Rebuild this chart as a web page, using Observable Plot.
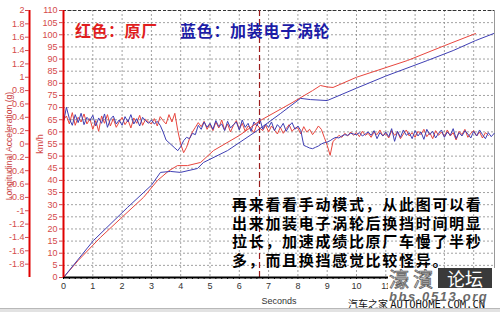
<!DOCTYPE html>
<html><head><meta charset="utf-8">
<script src="https://cdn.jsdelivr.net/npm/d3@7"></script>
<script src="https://cdn.jsdelivr.net/npm/@observablehq/plot@0.6"></script>
<style>
body{margin:0;background:#fff;}
#wrap{position:relative;width:500px;height:312px;overflow:hidden;background:#fff;font-family:Arial,"Liberation Sans",sans-serif}
.ov{position:absolute;white-space:nowrap;line-height:1}
.cjk{font-family:"Noto Sans CJK SC",sans-serif;font-weight:700}
</style></head><body><div id="wrap"></div>
<script>
// ---- data ----
const accelStart = 0, accelStep = 0.1; // seconds between acceleration samples
// red = 原厂 (stock), longitudinal acceleration in g
const redAccel = [
 0.36,0.42,0.30,0.47,0.28,0.40,0.33,0.45,0.30,0.38,
 0.22,0.35,0.19,0.42,0.31,0.44,0.27,0.38,0.25,0.33,
 0.40,0.29,0.36,0.24,0.39,0.31,0.43,0.28,0.37,0.33,
 0.30,0.38,0.27,0.41,0.35,0.30,0.44,0.33,0.46,0.20,
 0.00,-0.13,-0.05,0.08,0.18,0.25,0.32,0.26,0.34,0.22,
 0.30,0.20,0.33,0.24,0.36,0.21,0.30,0.18,0.28,0.35,
 0.22,0.31,0.19,0.27,0.23,0.17,0.29,0.24,0.20,0.28,
 0.18,0.27,0.21,0.15,0.25,0.16,0.23,0.29,0.19,0.24,
 0.24,0.15,0.26,0.18,0.22,0.14,0.20,0.27,0.22,0.10,
 -0.02,-0.17,0.04,0.08,0.13,0.10,0.16,0.12,0.18,0.13,
 0.17,0.11,0.19,0.13,0.16,0.10,0.18,0.14,0.21,0.12,
 0.16,0.09,0.20,0.13,0.18,0.08,0.15,0.21,0.12,0.17,
 0.10,0.19,0.14,0.22,0.11,0.17,0.08,0.20,0.13,0.18,
 0.11,0.21,0.12,0.17,0.06,0.19,0.14,0.22,0.10,0.16,
 0.20,0.12,0.18,0.09,0.17,0.13
];
// blue = 加装电子涡轮 (electric turbo), longitudinal acceleration in g
const blueAccel = [
 0.33,0.55,0.38,0.28,0.44,0.32,0.46,0.29,0.40,0.35,
 0.43,0.27,0.39,0.31,0.45,0.25,0.37,0.42,0.30,0.36,
 0.28,0.41,0.33,0.44,0.30,0.38,0.27,0.40,0.35,0.31,
 0.36,0.30,0.34,0.28,0.18,0.06,0.02,-0.02,-0.06,-0.10,
 -0.04,0.05,0.10,0.08,0.16,0.14,0.28,0.22,0.33,0.25,
 0.31,0.22,0.35,0.26,0.30,0.20,0.34,0.24,0.29,0.33,
 0.21,0.36,0.25,0.31,0.19,0.33,0.27,0.38,0.22,0.30,
 0.25,0.33,0.20,0.29,0.24,0.31,0.19,0.27,0.32,0.22,
 0.27,0.20,-0.02,-0.04,-0.06,-0.07,-0.05,-0.03,0.00,0.02,
 0.03,0.05,0.08,0.10,0.09,0.12,0.14,0.13,0.16,0.15,
 0.14,0.17,0.12,0.15,0.18,0.13,0.20,0.08,0.17,0.12,
 0.18,0.11,0.23,0.04,0.19,0.10,0.21,0.13,0.17,0.08,
 0.20,0.12,0.18,0.07,0.22,0.14,0.19,0.09,0.16,0.21,
 0.10,0.18,0.13,0.23,0.08,0.17,0.12,0.20,0.15,0.09,
 0.19,0.12,0.21,0.14,0.08,0.17,0.11,0.16
];
// speed (km/h) against time (s)
const redSpeedTime = [0,0.5,1.26,1.95,2.73,3.21,3.6,3.89,4.23,4.68,5.12,6.0,6.72,7.8,8.5,8.77,9.0,9.2,10.0,11.74,13.0,14.06];
const redSpeed     = [0,7,16.5,24.3,33,40,44,46.1,46.1,47.4,52.3,58.5,64.7,72,77,79.1,78.5,78.3,82.5,89.4,95.5,100.5];
const blueSpeedTime = [0,1.02,2.18,3.0,3.31,3.65,3.99,4.57,4.78,5.6,6.62,7.4,8.09,8.43,9.0,10.0,11.0,12.42,13.3,14.06,14.68];
const blueSpeed     = [0,15.2,28.8,38,43.3,43.7,43.3,44.9,47.4,52.3,60.6,67.5,73.8,73.3,72.9,78,83,89.4,93.5,97.6,100.5];
// ticks
const secondTicks = [0,1,2,3,4,5,6,7,8,9,10,11,12,13,14];
const secondLabels = [0,1,2,3,4,5,6,7,8,9,10,11];
const kmhTicks = [0,5,10,15,20,25,30,35,40,45,50,55,60,65,70,75,80,85,90,95,100,105,110];
const gTicks = [-1.8,-1.6,-1.4,-1.2,-1,-0.8,-0.6,-0.4,-0.2,0,0.2,0.4,0.6,0.8,1,1.2,1.4,1.6,1.8,2];
const cursorTime = [6.69];
const xMax = 14.71;
const gMin = -2, gMax = 2, kmhMax = 110;

// ---- build ----
const gToKmh = g => (g - gMin) / (gMax - gMin) * kmhMax;
const kmhToG = v => Math.round((v / kmhMax * (gMax - gMin) + gMin) * 10) / 10;
const redAccelData = redAccel.map((g, i) => ({t: accelStart + i * accelStep, g}));
const blueAccelData = blueAccel.map((g, i) => ({t: accelStart + i * accelStep, g}));
const redSpeedData = redSpeedTime.map((t, i) => ({t, v: redSpeed[i]}));
const blueSpeedData = blueSpeedTime.map((t, i) => ({t, v: blueSpeed[i]}));
const minorTicks = d3.range(0, xMax, 0.2);

const RED = "#e8463e", BLUE = "#3f3fb4";
const grid = {stroke: "#8a8a8a", strokeOpacity: 1, strokeDasharray: "2,2", strokeWidth: 0.8};

const chart = Plot.plot({
  width: 500, height: 312,
  marginLeft: 63, marginRight: 6, marginTop: 10, marginBottom: 35,
  x: {domain: [0, xMax]},
  y: {domain: [0, kmhMax]},
  style: {fontFamily: "Arial, 'Liberation Sans', sans-serif", fontSize: "9px", background: "transparent", overflow: "visible"},
  marks: [
    Plot.gridX(secondTicks.slice(1), grid),
    Plot.gridY(kmhTicks.slice(1), grid),
    Plot.ruleY([kmhMax], {stroke: "#333", strokeDasharray: "3,2"}),
    Plot.ruleX([xMax], {stroke: "#999"}),
    Plot.ruleX(cursorTime, {stroke: "#9b1c1c", strokeDasharray: "6,3", strokeWidth: 1.2}),
    Plot.line(redAccelData, {x: "t", y: d => gToKmh(d.g), stroke: RED, strokeWidth: 1}),
    Plot.line(blueAccelData, {x: "t", y: d => gToKmh(d.g), stroke: BLUE, strokeWidth: 1}),
    Plot.line(redSpeedData, {x: "t", y: "v", stroke: RED, strokeWidth: 1}),
    Plot.line(blueSpeedData, {x: "t", y: "v", stroke: BLUE, strokeWidth: 1}),
    Plot.ruleY([0], {stroke: "#000", strokeWidth: 2}),
    Plot.ruleX([0], {stroke: "#e00000", strokeWidth: 2}),
    Plot.ruleX([0], {stroke: "#e00000", strokeWidth: 2, dx: -34}),
    Plot.axisY(kmhTicks, {tickSize: 4, tickPadding: 2, color: "#d44a4a", tickFormat: d => String(d),
      label: "km/h", labelAnchor: "center", labelOffset: 27, labelArrow: "none"}),
    Plot.axisY(gTicks.map(gToKmh), {dx: -34, tickSize: 4, tickPadding: 1, color: "#d44a4a",
      tickFormat: d => String(kmhToG(d)), label: null}),
    Plot.axisX(minorTicks, {tickSize: 2, tickFormat: () => "", stroke: "#000", label: null}),
    Plot.axisX(secondLabels, {tickSize: 0, tickPadding: 5, color: "#333", label: "Seconds",
      labelAnchor: "center", labelOffset: 26, labelArrow: "none"})
  ]
});
const wrap = document.getElementById("wrap");
wrap.appendChild(chart);

function ov(html, css, cls) {
  const d = document.createElement("div");
  d.className = "ov " + (cls || "");
  d.innerHTML = html;
  Object.assign(d.style, css);
  wrap.appendChild(d);
  return d;
}
// rotated acceleration axis title
ov("Longitudinal Acceleration (g)", {left: "9px", top: "146px", fontSize: "8.6px", color: "#c83c3c",
  transform: "translate(-50%,-50%) rotate(-90deg)"});
// legend text
ov("红色：原厂", {left: "75px", top: "22px", fontSize: "16px", color: "#e01e1e", letterSpacing: "0.5px"}, "cjk");
ov("蓝色：加装电子涡轮", {left: "180px", top: "22px", fontSize: "16px", color: "#1c1ca6", letterSpacing: "0.7px"}, "cjk");
// paragraph, one line per block
const para = ["再来看看手动模式，从此图可以看", "出来加装电子涡轮后换挡时间明显", "拉长，加速成绩比原厂车慢了半秒", "多，而且换挡感觉比较怪异。"];
para.forEach((line, i) => ov(line, {left: "232px", top: (196 + i * 18.5) + "px", fontSize: "15px",
  color: "#000", letterSpacing: "1.7px"}, "cjk"));
// watermark
ov("", {left: "388px", top: "268px", width: "112px", height: "40px", background: "#fff"});
ov("濠濱", {left: "389px", top: "269px", fontSize: "20px", color: "#d0d0d0", letterSpacing: "4px",
  webkitTextStroke: "0.7px #5a5a5a", fontFamily: "'Noto Sans CJK TC',sans-serif"});
ov("论坛", {left: "438px", top: "268px", width: "54px", height: "20px", background: "#3a3a3a", color: "#fff",
  fontSize: "18px", textAlign: "center", lineHeight: "20px", fontWeight: "400"}, "cjk");
ov("汽车之家 <span style=\"font-family:'DejaVu Sans Mono',monospace;font-size:10.5px\">AUTOHOME.COM.CN</span>",
  {left: "348px", top: "299px", fontSize: "10px", color: "#111", fontFamily: "'Noto Sans CJK SC',sans-serif"});
ov("bbs.0513.org", {left: "389px", top: "290px", fontSize: "13px", fontWeight: "700", fontStyle: "italic",
  color: "#6a6a6a", letterSpacing: "1.6px"});
// bottom grey band
ov("", {left: "0px", top: "308px", width: "500px", height: "1px", background: "#b8b8b8"});
ov("", {left: "0px", top: "309px", width: "500px", height: "3px", background: "#e2e2e2"});
</script></body></html>
